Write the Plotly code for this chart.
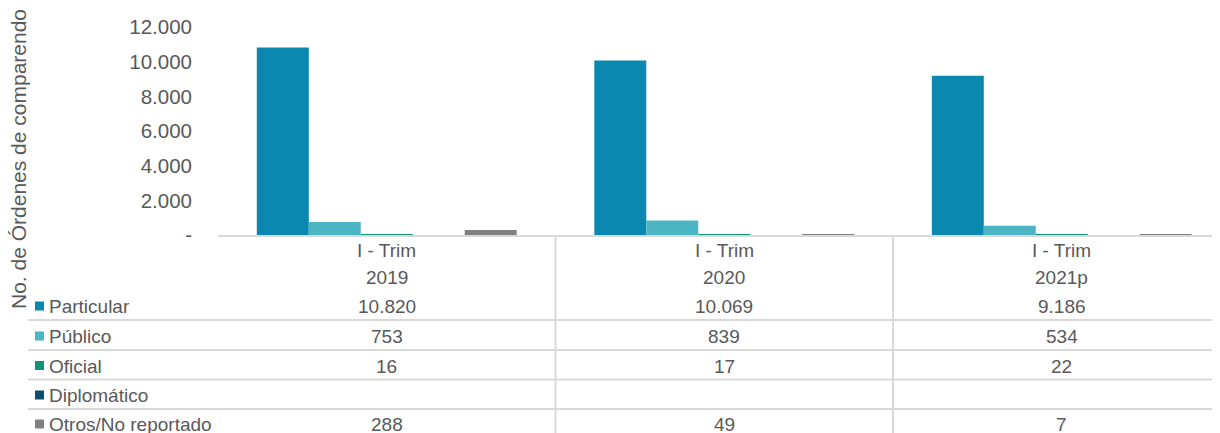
import plotly.graph_objects as go

# ---- data ----
periods = ["I - Trim", "I - Trim", "I - Trim"]
years = ["2019", "2020", "2021p"]
series_names = ["Particular", "Público", "Oficial", "Diplomático", "Otros/No reportado"]
particular = [10820, 10069, 9186]
publico = [753, 839, 534]
oficial = [16, 17, 22]
diplomatico = [None, None, None]
otros = [288, 49, 7]
y_tick_vals = [0, 2000, 4000, 6000, 8000, 10000, 12000]
y_tick_text = ["-", "2.000", "4.000", "6.000", "8.000", "10.000", "12.000"]
y_title = "No. de Órdenes de comparendo"

series_values = [particular, publico, oficial, diplomatico, otros]
colors = ["#0B88B0", "#4BB5C4", "#0F9378", "#0B4F6C", "#808080"]

# ---- geometry (screen pixels; page body has an 8px margin) ----
OFF = 8
SW, SH = 1220, 433
W, H = SW - OFF, SH - OFF
L_S, T_S, B_S, R_S = 218, 27, 235, SW
L, T, B_PX, R_PX = L_S - OFF, T_S - OFF, B_S - OFF, R_S - OFF
PLOT_W = R_PX - L
PLOT_H = B_PX - T
CAT_W = 337.5

def px(p):
    return (p - OFF - L) / PLOT_W

def py(p):
    return (B_PX - (p - OFF)) / PLOT_H

FONT = "Arial, Liberation Sans, sans-serif"
TXT = "#595959"
GRID = "#D9D9D9"

fig = go.Figure()
for name, vals, col in zip(series_names, series_values, colors):
    fig.add_trace(go.Bar(x=years, y=vals, name=name, marker=dict(color=col, line=dict(width=0)),
                         showlegend=False))

x_right = (len(years) - 0.5) - (L_S + CAT_W * len(years) - R_S) / CAT_W

fig.update_layout(
    width=W, height=H,
    margin=dict(l=L, r=W - R_PX, t=T, b=H - B_PX, pad=0),
    barmode="group", bargap=0.23, bargroupgap=0,
    plot_bgcolor="white", paper_bgcolor="white",
    font=dict(family=FONT, color=TXT),
    xaxis=dict(type="category", categoryorder="array", categoryarray=years,
               range=[-0.5, x_right], showticklabels=False, ticks="",
               showgrid=False, zeroline=False, showline=True,
               linecolor=GRID, linewidth=2, fixedrange=True),
    yaxis=dict(range=[0, 12000], tickvals=y_tick_vals, ticktext=y_tick_text,
               tickfont=dict(size=20.5, color=TXT, family=FONT), ticks="",
               showgrid=False, zeroline=False, showline=False,
               ticklabelstandoff=25, fixedrange=True),
)

shapes = []
annotations = []

# y-axis title
annotations.append(dict(text=y_title, textangle=-90, xref="paper", yref="paper",
                        x=px(18), y=py(159), xanchor="center", yanchor="middle",
                        showarrow=False, font=dict(size=21, color=TXT, family=FONT)))

# table horizontal lines
for yl in [320, 350, 379.5, 409]:
    shapes.append(dict(type="line", xref="paper", yref="paper", x0=px(28), x1=1.0,
                       y0=py(yl), y1=py(yl), line=dict(color=GRID, width=2)))
# table vertical lines between categories
for i in range(len(years) - 1):
    shapes.append(dict(type="line", xref="x", yref="paper", x0=i + 0.5, x1=i + 0.5,
                       y0=py(B_S), y1=py(SH + 5), line=dict(color=GRID, width=2)))

# header rows
for i, (p, yr) in enumerate(zip(periods, years)):
    annotations.append(dict(text=p, xref="x", yref="paper", x=i, y=py(250.5),
                            xanchor="center", yanchor="middle", showarrow=False,
                            font=dict(size=19, color=TXT, family=FONT)))
    annotations.append(dict(text=yr, xref="x", yref="paper", x=i, y=py(277),
                            xanchor="center", yanchor="middle", showarrow=False,
                            font=dict(size=19, color=TXT, family=FONT)))

row_centers = [306, 336, 365.5, 395, 424]

def fmt(v):
    return "" if v is None else f"{v:,}".replace(",", ".")

for name, vals, col, yc in zip(series_names, series_values, colors, row_centers):
    shapes.append(dict(type="rect", xref="paper", yref="paper",
                       x0=px(35), x1=px(44), y0=py(yc + 4.5), y1=py(yc - 4.5),
                       fillcolor=col, line=dict(width=0)))
    annotations.append(dict(text=name, xref="paper", yref="paper", x=px(47), y=py(yc + 0.5),
                            xanchor="left", yanchor="middle", showarrow=False,
                            font=dict(size=19, color=TXT, family=FONT)))
    for i, v in enumerate(vals):
        if v is None:
            continue
        annotations.append(dict(text=fmt(v), xref="x", yref="paper", x=i, y=py(yc + 0.5),
                                xanchor="center", yanchor="middle", showarrow=False,
                                font=dict(size=19, color=TXT, family=FONT)))

fig.update_layout(shapes=shapes, annotations=annotations)
fig.write_html("out.html")
